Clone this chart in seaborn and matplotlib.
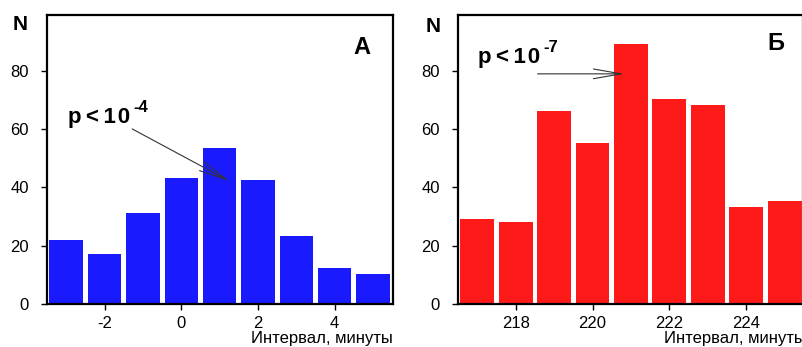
import matplotlib
matplotlib.use('Agg')
import matplotlib.pyplot as plt
import numpy as np
import pandas as pd
import seaborn as sns

# data
minutes_a = [-3, -2, -1, 0, 1, 2, 3, 4, 5]
counts_a = [22, 17, 31.3, 43.2, 53.4, 42.4, 23.3, 12.3, 10.3]
minutes_b = [217, 218, 219, 220, 221, 222, 223, 224, 225]
counts_b = [29.3, 28.2, 66.2, 55.4, 89.3, 70.3, 68.3, 33.3, 35.2]
yticks = [0, 20, 40, 60, 80]
xticks_a = [-2, 0, 2, 4]
xticks_b = [218, 220, 222, 224]
xlabel = 'Интервал, минуты'

sns.set_style('white')
plt.rcParams['font.family'] = ['Liberation Sans', 'DejaVu Sans']
plt.rcParams['text.color'] = 'black'
plt.rcParams['axes.unicode_minus'] = False

fig = plt.figure(figsize=(8.03, 3.47), dpi=100)
W, H = 803, 347
ax1 = fig.add_axes([47 / W, 43 / H, 346 / W, 289 / H])
ax2 = fig.add_axes([458 / W, 43 / H, 344 / W, 289 / H])

df_a = pd.DataFrame({'x': minutes_a, 'n': counts_a})
df_b = pd.DataFrame({'x': minutes_b, 'n': counts_b})

sns.barplot(data=df_a, x='x', y='n', native_scale=True, width=0.87,
            color='#1a1aff', saturation=1, linewidth=0, ax=ax1)
sns.barplot(data=df_b, x='x', y='n', native_scale=True, width=0.88,
            color='#ff1a1a', saturation=1, linewidth=0, ax=ax2)

ax1.set_xlim(-3.5, 5.52)
ax2.set_xlim(216.5, 225.45)
for ax, xt in [(ax1, xticks_a), (ax2, xticks_b)]:
    ax.set_ylim(0, 99.2)
    ax.set_yticks(yticks)
    ax.set_xticks(xt)
    ax.set_xlabel('')
    ax.set_ylabel('')
    ax.tick_params(axis='both', direction='out', length=4, width=1,
                   labelsize=12, colors='black', bottom=True, left=True)
    ax.tick_params(axis='y', pad=9)
    ax.tick_params(axis='x', pad=5)
    for s in ['left', 'bottom', 'top', 'right']:
        ax.spines[s].set_linewidth(1.6)
        ax.spines[s].set_color('black')
    ax.grid(False)
ax2.spines['right'].set_color('#888888')
ax2.spines['right'].set_linewidth(1)

ax1.text(1.0, -0.121, xlabel, transform=ax1.transAxes, ha='right',
         va='center', fontsize=12)
ax2.text(1.012, -0.121, xlabel, transform=ax2.transAxes, ha='right',
         va='center', fontsize=12, clip_on=False)

fig.text(20 / W, 1 - 25 / H, 'N', ha='center', va='center',
         fontsize=15, fontweight='bold')
fig.text(433 / W, 1 - 27 / H, 'N', ha='center', va='center',
         fontsize=15, fontweight='bold')

ax1.text(0.91, 0.889, 'А', transform=ax1.transAxes, ha='center',
         va='center', fontsize=17, fontweight='bold')
ax2.text(0.924, 0.903, 'Б', transform=ax2.transAxes, ha='center',
         va='center', fontsize=17, fontweight='bold')

arrow = dict(arrowstyle='->,head_length=2.0,head_width=0.35',
             color='#333333', lw=0.8, mutation_scale=10,
             shrinkA=0, shrinkB=0)
ptext = 'p\u2009<\u20091\u200a0'

# panel A annotation
ax1.annotate('', xy=(1.25, 42.2), xytext=(-1.28, 60.1), arrowprops=arrow)
ax1.text(-2.95, 62.1, ptext, fontsize=16, fontweight='bold',
         ha='left', va='baseline')
ax1.text(-1.25, 67.3, '-4', fontsize=12, fontweight='bold',
         ha='left', va='center')

# panel B annotation
ax2.annotate('', xy=(220.83, 79), xytext=(218.57, 79), arrowprops=arrow)
ax2.text(217.01, 82.7, ptext, fontsize=16, fontweight='bold',
         ha='left', va='baseline')
ax2.text(218.73, 87.9, '-7', fontsize=12, fontweight='bold',
         ha='left', va='center')

fig.savefig('out.png', dpi=100)
